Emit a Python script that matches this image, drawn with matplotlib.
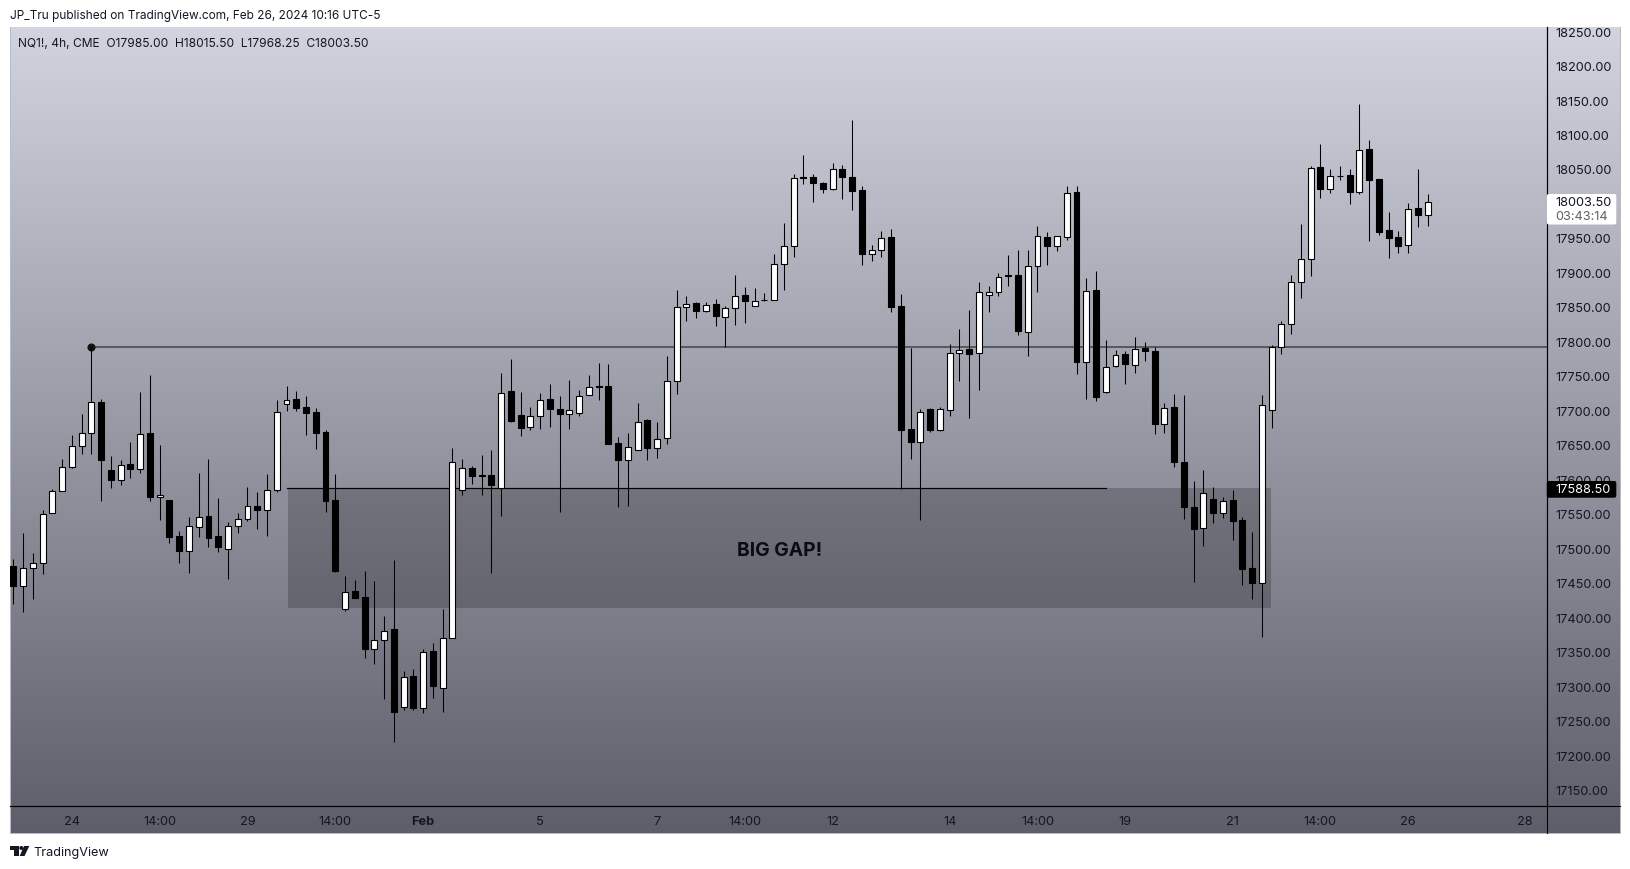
import numpy as np
import matplotlib
matplotlib.use('Agg')
import matplotlib.pyplot as plt
from matplotlib.patches import Rectangle, Polygon, Circle, FancyBboxPatch

plt.rcParams['font.family'] = ['Inter', 'DejaVu Sans']

# NQ1! 4h candles
opens = [17476.25, 17447, 17473.5, 17480.75, 17553.25, 17585, 17620, 17650.25, 17669.25, 17714,
         17614.5, 17601, 17623.25, 17617, 17668.25, 17576.5, 17571, 17519, 17498, 17533,
         17548, 17519, 17501, 17534.25, 17544.5, 17563.25, 17557.5, 17586.5, 17711.25, 17717.5,
         17706, 17698.75, 17669.75, 17571, 17414, 17439, 17430.5, 17356, 17369, 17384,
         17272, 17316, 17270.5, 17352, 17299, 17371.5, 17586.5, 17618.5, 17607.75, 17608.25,
         17589, 17729, 17695.25, 17677.5, 17693.25, 17718.5, 17704, 17696.25, 17697.75, 17723.75,
         17736.5, 17736.5, 17653.75, 17629.5, 17644, 17687, 17647, 17661.5, 17744.5, 17851.5,
         17856.75, 17845.5, 17855.25, 17837, 17850, 17868.25, 17852.75, 17862, 17861.5, 17914.25,
         17940.25, 18039.5, 18040.5, 18031.75, 18022.5, 18051, 18040.5, 18020.5, 17928.25, 17934,
         17952.5, 17852.5, 17674, 17656.25, 17703, 17673, 17702.5, 17784.75, 17790, 17784.75,
         17868.75, 17873, 17897.25, 17897.25, 17815.5, 17910.75, 17952.5, 17940.25, 17953.5, 18017.75,
         17771.75, 17875.5, 17728.25, 17765.75, 17782.75, 17767.25, 17791.5, 17787, 17681.75, 17706,
         17627, 17562, 17531, 17572.5, 17552.75, 17571, 17542, 17472.5, 17451.25, 17702,
         17794, 17826.75, 17887.5, 17921.5, 18054, 18022.5, 18041.75, 18042.25, 18018, 18080,
         18037.5, 17962.5, 17952.5, 17940.75, 17994.5, 17985]
closes = [17447, 17473, 17480.75, 17551.75, 17585, 17620, 17650.25, 17669.25, 17714, 17629.5,
          17600.5, 17622.75, 17616.5, 17667.75, 17576, 17579.25, 17518, 17497.5, 17534.25, 17547.5,
          17516, 17503.5, 17534.25, 17544.5, 17563.25, 17556.5, 17586.5, 17699.5, 17717, 17705,
          17697.75, 17668.75, 17570, 17468.5, 17438.5, 17429.5, 17355.5, 17369, 17382, 17264.25,
          17315.5, 17270, 17351.5, 17301.5, 17372, 17627, 17618.5, 17606.5, 17606.5, 17593.25,
          17727.25, 17685.5, 17676, 17693.75, 17717, 17703, 17696.25, 17702.5, 17722.75, 17736,
          17735.5, 17652.25, 17629, 17649, 17685, 17646.5, 17660.5, 17744.5, 17852, 17856.25,
          17845.5, 17854.75, 17838, 17850.5, 17867.75, 17859.5, 17860.5, 17861, 17914.25, 17940.25,
          18039, 18038.5, 18031.25, 18022.5, 18052, 18040, 18019.5, 17928.25, 17934.5, 17952,
          17851.5, 17672.5, 17655.75, 17699.75, 17672.5, 17704, 17785.25, 17789.5, 17782.75, 17873.5,
          17873.5, 17895.5, 17896.5, 17816, 17911.25, 17954.75, 17939.5, 17954.75, 18017.25, 17771.25,
          17875, 17720.5, 17765, 17782.25, 17768.25, 17791, 17787, 17681.25, 17705.5, 17626.25,
          17561, 17529, 17582.25, 17552.25, 17570.5, 17540.5, 17471, 17450.75, 17709.75, 17794,
          17827.25, 17888, 17921.5, 18053.5, 18022, 18041.75, 18041, 18017.75, 18079.5, 18035,
          17959.75, 17951, 17939.5, 17994, 17984.25, 18003.5]
highs = [17486.5, 17524.25, 17494.25, 17557.5, 17588, 17631.5, 17666.25, 17695.75, 17793, 17718.5,
         17635, 17630, 17655.25, 17727.75, 17752.25, 17650.75, 17571, 17526, 17546.5, 17611.25,
         17631.5, 17574, 17540, 17552.25, 17591, 17582.75, 17608.75, 17716, 17736.5, 17729,
         17722, 17705.5, 17672.5, 17608.75, 17461, 17455, 17468, 17453.5, 17403, 17484,
         17323, 17326, 17355, 17363.75, 17413, 17646.5, 17631.5, 17620.5, 17636.25, 17643.5,
         17756.25, 17775.5, 17727.75, 17706, 17726.25, 17739.25, 17722, 17745, 17730.5, 17752.25,
         17769.75, 17768.25, 17662.5, 17668.25, 17711.75, 17688.5, 17684.25, 17780, 17875.5, 17867,
         17858.25, 17858.25, 17862.5, 17852.5, 17897.25, 17880, 17878.5, 17871.25, 17927.75, 17972.75,
         18044.75, 18071.25, 18043.75, 18033, 18059.75, 18056.75, 18122, 18026.5, 17940.75, 17961,
         17964, 17869.75, 17791.5, 17703, 17704.5, 17706, 17797.25, 17819, 17846.5, 17887.25,
         17881.5, 17900.25, 17926.25, 17933.5, 17933.5, 17968.5, 17959.75, 17954.75, 18026.5, 18026.5,
         17893, 17903, 17803, 17788.5, 17787, 17807.5, 17800.25, 17793, 17711.75, 17724.75,
         17723.25, 17598.5, 17614.5, 17590, 17575.5, 17585.5, 17546.5, 17524.75, 17723.25, 17795.75,
         17830.5, 17897.25, 17971.25, 18056.25, 18087.25, 18051, 18055.5, 18051, 18145, 18093,
         18037.5, 17988.75, 17961, 18001.75, 18051, 18015.5]
lows = [17420.25, 17409.25, 17427.5, 17463.75, 17553, 17585, 17617.5, 17637.75, 17637.75, 17569.5,
        17589, 17593.25, 17603, 17610.25, 17569.5, 17542, 17508.75, 17479.75, 17465.25, 17517.5,
        17503, 17495.75, 17456.5, 17523.25, 17540.5, 17529, 17519, 17582.75, 17700, 17700,
        17665.25, 17645, 17553.75, 17466.75, 17410, 17429.5, 17342, 17333.25, 17282.5, 17220.75,
        17266.5, 17266.5, 17262.25, 17284, 17263.75, 17371.5, 17578.25, 17594.25, 17578.25, 17465,
        17548.5, 17684.25, 17664, 17672.5, 17674, 17677, 17553.75, 17674, 17693, 17723.75,
        17716, 17652.25, 17561, 17562.5, 17644, 17629, 17632, 17652.25, 17724.75, 17830.5,
        17835, 17843.75, 17823.5, 17793, 17824.75, 17827.75, 17852.75, 17859.5, 17861.5, 17875.5,
        17923.5, 18029.25, 18003.25, 18016.25, 18020.5, 18007.5, 17991.5, 17911.75, 17917.5, 17923.5,
        17843.75, 17588, 17630.5, 17542, 17669.75, 17671, 17693, 17743.5, 17690, 17730.5,
        17843.75, 17867, 17881.5, 17810.25, 17780, 17872.75, 17911.75, 17932, 17948, 17753.75,
        17717.5, 17714.5, 17726.25, 17764, 17739.25, 17755.25, 17772.5, 17666.75, 17668.25, 17619,
        17543.5, 17452.25, 17504.5, 17537.75, 17545, 17513, 17447.75, 17427.5, 17372.5, 17675.5,
        17782.75, 17811.75, 17864, 17895.75, 18009, 18016.25, 18035, 18000.25, 18014.75, 17947,
        17955.25, 17922, 17929.25, 17929.25, 17966.75, 17968.25]

# 18000 sits under the last price tag in the original
price_ticks = [17150, 17200, 17250, 17300, 17350, 17400, 17450, 17500, 17550, 17600, 17650, 17700,
               17750, 17800, 17850, 17900, 17950, 18050, 18100, 18150, 18200, 18250]
time_ticks = [6, 15, 24, 33, 42, 54, 66, 75, 84, 96, 105, 114, 125, 134, 143, 155]
time_labels = ['24', '14:00', '29', '14:00', 'Feb', '5', '7', '14:00', '12', '14', '14:00', '19',
               '21', '14:00', '26', '28']

level_price = 17793
gap_top = 17588.5
gap_bottom = 17414.5
last_price = 18003.50

W, H = 1631, 869
DARK = '#131722'
PX = 0.72  # one pixel in points at dpi 100
SCALE_X = 1546.8


def box(x0, y0, x1, y1):
    # pixel box -> figure fraction rect
    return [x0 / W, 1 - y1 / H, (x1 - x0) / W, (y1 - y0) / H]


fig = plt.figure(figsize=(W / 100, H / 100), dpi=100, facecolor='white')

# background gradient of the whole panel
bg = fig.add_axes(box(10, 27, 1620, 833))
grad = np.linspace(0, 1, 256).reshape(-1, 1)
top_col = np.array([209, 212, 223]) / 255
bot_col = np.array([93, 94, 106]) / 255
bg.imshow(top_col + (bot_col - top_col) * grad[..., None], aspect='auto')
bg.set_xticks([])
bg.set_yticks([])
for s in bg.spines.values():
    s.set_color('#B8BBC6')
    s.set_linewidth(PX)
bg.spines['top'].set_visible(False)

# price pane
ax = fig.add_axes(box(10, 27, SCALE_X, 806))
ax.patch.set_alpha(0)
ax.set_xlim(-0.35, 157.22)
ax.set_ylim(17127.8, 18257.3)

x = np.arange(len(opens))
o = np.array(opens)
c = np.array(closes)
up = c >= o
ax.add_patch(Rectangle((28.15, gap_bottom), 100.75, gap_top - gap_bottom, facecolor='black',
                       alpha=0.2, edgecolor='none', zorder=1))
ax.plot([28, 112], [gap_top, gap_top], color='black', lw=PX * 1.2, zorder=2)
ax.plot([8, 157.22], [level_price, level_price], color='#4d4d52', lw=PX * 1.7, zorder=2)
ax.plot([8], [level_price], 'o', color='#111111', ms=4.8, zorder=2)
ax.vlines(x, lows, highs, color='black', lw=PX * 1.05, zorder=3)
ax.bar(x, np.abs(c - o), bottom=np.minimum(o, c), width=0.61,
       color=np.where(up, 'white', 'black'), edgecolor='black', linewidth=PX * 1.1, zorder=4)
ax.text(78.6, 17497.5, 'BIG GAP!', fontsize=13.9, fontweight='bold', color='#0b0c10', ha='center',
        va='center', zorder=5)

ax.yaxis.tick_right()
ax.set_yticks(price_ticks)
ax.set_yticklabels(['%.2f' % p for p in price_ticks])
ax.set_xticks(time_ticks)
ax.set_xticklabels(time_labels)
ax.tick_params(length=0, labelsize=9.2, labelcolor=DARK)
ax.tick_params(axis='y', pad=6)
ax.tick_params(axis='x', pad=7)
ax.get_xticklabels()[time_labels.index('Feb')].set_fontweight('bold')
for s in ['top', 'left']:
    ax.spines[s].set_visible(False)
for s in ['bottom', 'right']:
    ax.spines[s].set_color('black')
    ax.spines[s].set_linewidth(PX * 1.1)

# overlay in pixels for title bits, tags and logo
ov = fig.add_axes([0, 0, 1, 1])
ov.set_xlim(0, W)
ov.set_ylim(H, 0)
ov.axis('off')
ov.plot([10, 1620], [806, 806], color='black', lw=PX * 1.1)
ov.plot([SCALE_X, SCALE_X], [27, 833], color='black', lw=PX * 1.1)

ov.text(10, 15.9, 'JP_Tru published on TradingView.com, Feb 26, 2024 10:16 UTC-5', fontsize=8.53,
        color=DARK, va='center')
ov.text(18, 43.6, 'NQ1!, 4h, CME  O17985.00  H18015.50  L17968.25  C18003.50', fontsize=8.65,
        color=DARK, va='center')
ov.text(33.3, 852.7, 'TradingView', fontsize=9.15, color=DARK, va='center')

# price tags on the scale
ov.add_patch(FancyBboxPatch((SCALE_X, 194), 69.5, 30.5, boxstyle='round,pad=0,rounding_size=2',
                            facecolor='white', edgecolor='none', zorder=5))
ov.text(1555.5, 203, '%.2f' % last_price, fontsize=9.2, color=DARK, va='center', zorder=6)
ov.text(1555.5, 217.2, '03:43:14', fontsize=9.2, color='#5f6167', va='center', zorder=6)
ov.add_patch(FancyBboxPatch((SCALE_X, 481), 69.5, 16.7, boxstyle='round,pad=0,rounding_size=2',
                            facecolor='black', edgecolor='none', zorder=5))
ov.text(1555.5, 490, '%.2f' % gap_top, fontsize=9.2, color='white', va='center', zorder=6)

# TradingView logo
ov.add_patch(Polygon([(10, 846), (19, 846), (19, 856), (14.5, 856), (14.5, 849.5), (10, 849.5)],
                     facecolor='#131722', edgecolor='none'))
ov.add_patch(Circle((21.3, 848), 2, facecolor='#131722', edgecolor='none'))
ov.add_patch(Polygon([(24, 846), (29.3, 846), (24.5, 856), (19.7, 856)], facecolor='#131722',
                     edgecolor='none'))

fig.savefig('out.png', dpi=100)
